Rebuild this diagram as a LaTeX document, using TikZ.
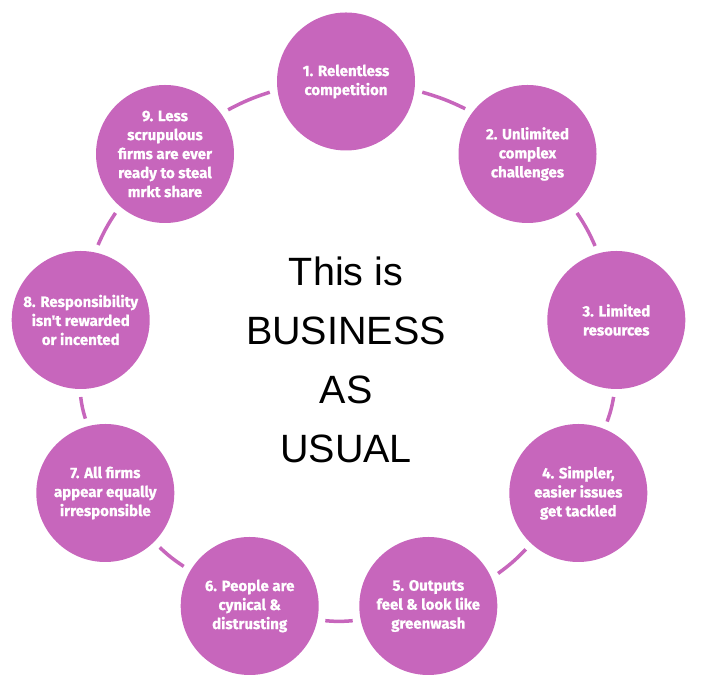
\documentclass[tikz,border=0pt]{standalone}
\usepackage{fontspec}
\setmainfont{Liberation Sans}
\newfontfamily\labelfont{Fira Sans}[BoldFeatures={FakeBold=0.9}]
\definecolor{orchidfill}{HTML}{C766BC}
\tikzset{
  item/.style={circle, fill=orchidfill, minimum size=138pt, inner sep=0pt, outer sep=8pt,
    text=white, align=center, font=\labelfont\bfseries\fontsize{15pt}{19pt}\selectfont},
  conn/.style={draw=orchidfill, line width=3.5pt, bend left=5},
}
\begin{document}
\begin{tikzpicture}[x=1pt,y=1pt]
\useasboundingbox (0,0) rectangle (701,692);
\node[item] (c1) at (346,610.5) {1. Relentless\\competition};
\node[item] (c2) at (527.5,538) {2. Unlimited\\complex\\challenges};
\node[item] (c3) at (616.3,372) {3. Limited\\resources};
\node[item] (c4) at (578.3,199) {4. Simpler,\\easier issues\\get tackled};
\node[item] (c5) at (428.3,86) {5. Outputs\\feel \& look like\\greenwash};
\node[item] (c6) at (249.7,86) {6. People are\\cynical \&\\distrusting};
\node[item] (c7) at (105.3,199) {7. All firms\\appear equally\\irresponsible};
\node[item] (c8) at (80.7,372) {8. Responsibility\\isn't rewarded\\or incented};
\node[item] (c9) at (165,538) {9. Less\\scrupulous\\firms are ever\\ready to steal\\mrkt share};
\node[align=center, font=\fontsize{39.5pt}{59pt}\selectfont] (title) at (346,332) {This is\\BUSINESS\\AS\\USUAL};
\path (c1.-8)    edge[conn] (c2.144)
      (c2.-50)   edge[conn] (c3.106)
      (c3.-92)   edge[conn] (c4.68)
      (c4.-133)  edge[conn] (c5.25)
      (c5.-169)  edge[conn] (c6.-11)
      (c6.149)   edge[conn] (c7.-45)
      (c7.105)   edge[conn] (c8.-90)
      (c8.77)    edge[conn] (c9.-130)
      (c9.35.5)  edge[conn] (c1.-172.5);
\end{tikzpicture}
\end{document}
